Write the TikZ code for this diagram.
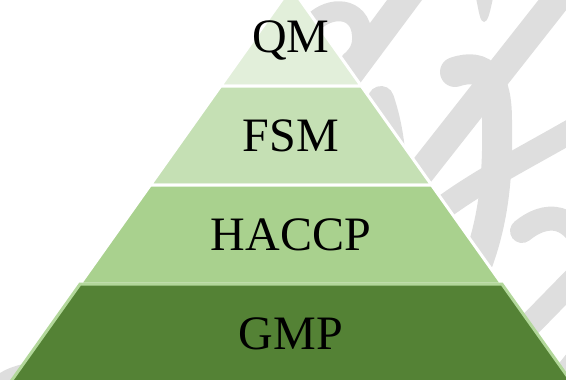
\documentclass[tikz,border=0pt]{standalone}
\usepackage{fontspec}
\setmainfont{Liberation Serif}
\definecolor{wmgray}{HTML}{DEDEDE}
\definecolor{qmgreen}{HTML}{E2EFDA}
\definecolor{fsmgreen}{HTML}{C5E0B4}
\definecolor{haccpgreen}{HTML}{A9D18E}
\definecolor{gmpgreen}{HTML}{548235}
\definecolor{gmpedge}{HTML}{B2D79A}

\begin{document}
\begin{tikzpicture}[x=1pt,y=-1pt,
  wm/.style={draw=wmgray,line cap=round},
  layer/.style={line width=3pt,line join=miter},
  label/.style={font=\fontsize{48}{58}\selectfont,anchor=base,inner sep=0pt}]
\def\ax{291} %x of the apex
\def\ay{-13} %y of the apex, just above the top edge
\def\lh{99} %height of one layer
\def\sl{0.71} %half width gained per unit of height
\useasboundingbox (0,0) rectangle (566,380);
\clip (0,0) rectangle (566,380);

% grey strokes in the background
\draw[wm,line width=20pt] (314,22) .. controls (330,6) and (360,6) .. (362,35) .. controls (363,48) and (358,55) .. (350,62);
\draw[wm,line width=28pt] (412,-10) -- (345,80);
\draw[wm,line width=26pt] (381,99) .. controls (388,120) and (392,140) .. (394,175);
\fill[wmgray] (476,-2) .. controls (479,12) and (480,22) .. (484,22) .. controls (488,22) and (490,12) .. (493,-2) -- cycle;
\draw[wm,line width=28pt] (572,-20) -- (395,205);
\draw[wm,line width=30pt] (455,72) .. controls (485,62) and (497,80) .. (497,120) .. controls (498,170) and (495,215) .. (478,262);
\draw[wm,line width=24pt] (580,126) .. controls (530,155) and (480,180) .. (440,210);
\draw[wm,line width=24pt] (522,231) .. controls (545,212) and (575,210) .. (590,260);
\draw[wm,line width=24pt] (595,258) -- (510,345);
\draw[wm,line width=24pt] (605,325) -- (545,400);
\fill[wmgray] (0,373) .. controls (8,368) and (20,363) .. (45,361) -- (45,385) -- (0,385) -- cycle;

% the four layers, top down
\foreach \i/\txt/\col/\edge in {0/QM/qmgreen/white,1/FSM/fsmgreen/white,2/HACCP/haccpgreen/white,3/GMP/gmpgreen/gmpedge}
{
\pgfmathsetmacro{\yt}{\ay+\i*\lh} % top of the layer
\pgfmathsetmacro{\yb}{\yt+\lh} % bottom of the layer
\pgfmathsetmacro{\wt}{\i*\lh*\sl} % half width at the top
\pgfmathsetmacro{\wb}{(\i+1)*\lh*\sl} % half width at the bottom
\filldraw[layer,draw=\edge,fill=\col] (\ax-\wt,\yt) -- (\ax+\wt,\yt) -- (\ax+\wb,\yb) -- (\ax-\wb,\yb) -- cycle;
\node[label] (lay\i) at (\ax,\yt+\lh/2+16) {\txt};
}
\end{tikzpicture}
\end{document}
